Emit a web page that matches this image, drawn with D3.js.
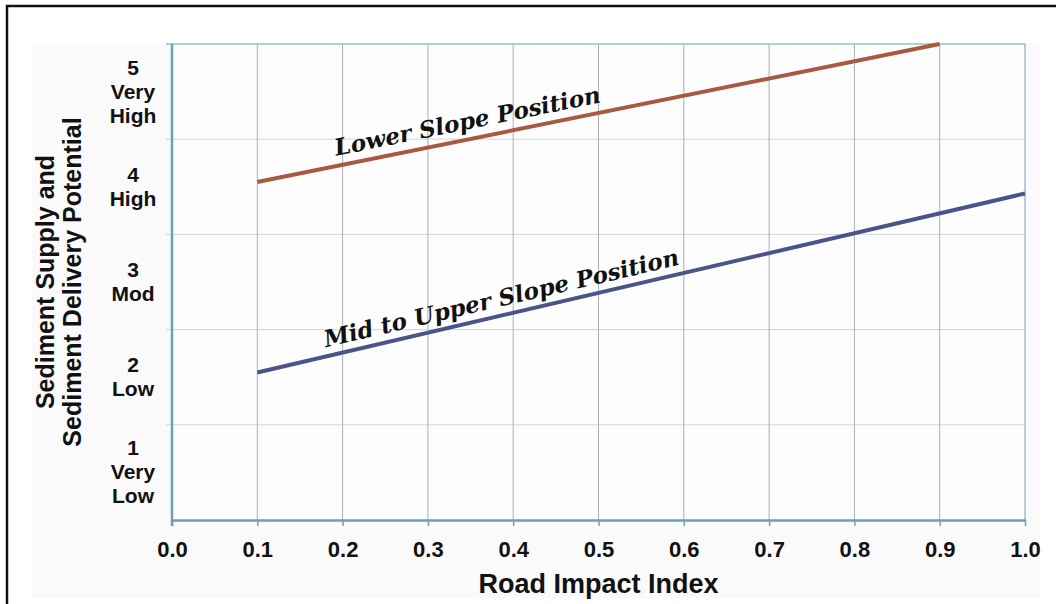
<!DOCTYPE html>
<html>
<head>
<meta charset="utf-8">
<script src="https://cdn.jsdelivr.net/npm/d3@7"></script>
<style>
  body { margin: 0; background: #fff; }
  svg { display: block; }
</style>
</head>
<body>
<div id="chart"></div>
<script>
// Values
const xTickValues = [0.0, 0.1, 0.2, 0.3, 0.4, 0.5, 0.6, 0.7, 0.8, 0.9, 1.0];
const levelBounds = [0, 1, 2, 3, 4, 5];
const levelLabels = [
  ["1", "Very", "Low"],
  ["2", "Low"],
  ["3", "Mod"],
  ["4", "High"],
  ["5", "Very", "High"]
];
const lowerSlope = [{x: 0.1, y: 3.55}, {x: 0.9, y: 5.0}];
const midUpperSlope = [{x: 0.1, y: 1.55}, {x: 1.0, y: 3.43}];
const series = [
  {name: "Lower Slope Position", values: lowerSlope, colour: "#a65a3e", labelAt: 0.195, gap: 10},
  {name: "Mid to Upper Slope Position", values: midUpperSlope, colour: "#4b5389", labelAt: 0.183, gap: 9}
];

const width = 1056, height = 604;
const plot = {left: 172, right: 1025, top: 44, bottom: 520};
const axisColour = "#6f9fb6";
const sans = "'Liberation Sans', Arial, sans-serif";

const svg = d3.select("#chart").append("svg")
  .attr("width", width)
  .attr("height", height);

// Frame and background panel
svg.append("rect")
  .attr("x", 7).attr("y", 6)
  .attr("width", width + 20).attr("height", height + 20)
  .attr("fill", "#fff").attr("stroke", "#111").attr("stroke-width", 2.5);
svg.append("rect")
  .attr("x", 32).attr("y", 43)
  .attr("width", 1008).attr("height", 555)
  .attr("fill", "#fafafa");

const x = d3.scaleLinear().domain([0, 1]).range([plot.left, plot.right]);
const y = d3.scaleLinear().domain([0, 5]).range([plot.bottom, plot.top]);

svg.append("rect")
  .attr("x", plot.left).attr("y", plot.top)
  .attr("width", plot.right - plot.left).attr("height", plot.bottom - plot.top)
  .attr("fill", "#fdfdfe");

// Horizontal grid lines (with stubs left of the axis)
svg.append("g")
  .selectAll("line")
  .data(levelBounds.slice(1))
  .join("line")
    .attr("x1", plot.left - 6)
    .attr("x2", plot.right)
    .attr("y1", d => y(d))
    .attr("y2", d => y(d))
    .attr("stroke", d => d == 5 ? axisColour : "#d2d6d9")
    .attr("stroke-width", 1);

// Vertical grid lines
svg.append("g")
  .selectAll("line")
  .data(xTickValues.slice(1))
  .join("line")
    .attr("x1", d => x(d))
    .attr("x2", d => x(d))
    .attr("y1", plot.top)
    .attr("y2", plot.bottom)
    .attr("stroke", d => d == 1 ? axisColour : "#aab0b4")
    .attr("stroke-width", 1);

// x axis
const xAxis = svg.append("g")
  .attr("transform", `translate(0,${plot.bottom})`)
  .call(d3.axisBottom(x).tickValues(xTickValues).tickFormat(d3.format(".1f")).tickSize(6).tickSizeOuter(0));
xAxis.select(".domain").attr("stroke", axisColour).attr("stroke-width", 2.5);
xAxis.selectAll(".tick line").attr("stroke", axisColour).attr("stroke-width", 1.5);
xAxis.selectAll(".tick text")
  .attr("dy", 0)
  .attr("y", 37)
  .attr("fill", "#111")
  .style("font-family", sans)
  .style("font-weight", "bold")
  .style("font-size", "22px");

// y axis line
svg.append("line")
  .attr("x1", plot.left).attr("x2", plot.left)
  .attr("y1", plot.top).attr("y2", plot.bottom + 6)
  .attr("stroke", axisColour).attr("stroke-width", 2.5);

// Level labels, centred in each band
const lineH = 24;
const levels = svg.append("g")
  .selectAll("text")
  .data(levelLabels)
  .join("text")
    .attr("text-anchor", "middle")
    .attr("fill", "#111")
    .style("font-family", sans)
    .style("font-weight", "bold")
    .style("font-size", "21px");
levels.each(function(lines, i) {
  const cy = y(i + 0.5);
  const first = cy - (lines.length - 1) * lineH / 2;
  d3.select(this).selectAll("tspan")
    .data(lines)
    .join("tspan")
      .attr("x", 133)
      .attr("y", (_, k) => first + k * lineH + 7)
      .text(d => d);
});

// Axis titles
svg.append("text")
  .attr("transform", `translate(58,${y(2.5)}) rotate(-90)`)
  .attr("text-anchor", "middle")
  .attr("fill", "#111")
  .style("font-family", sans)
  .style("font-weight", "bold")
  .style("font-size", "25px")
  .selectAll("tspan")
  .data(["Sediment Supply and", "Sediment Delivery Potential"])
  .join("tspan")
    .attr("x", 0)
    .attr("y", (_, i) => i * 27 - 4)
    .text(d => d);

svg.append("text")
  .attr("x", x(0.5))
  .attr("y", 593)
  .attr("text-anchor", "middle")
  .attr("fill", "#111")
  .style("font-family", sans)
  .style("font-weight", "bold")
  .style("font-size", "27px")
  .text("Road Impact Index");

// Series lines
const line = d3.line().x(d => x(d.x)).y(d => y(d.y));
svg.append("g")
  .selectAll("path")
  .data(series)
  .join("path")
    .attr("d", d => line(d.values))
    .attr("fill", "none")
    .attr("stroke", d => d.colour)
    .attr("stroke-width", 4);

// Labels along each line
svg.append("g")
  .selectAll("text")
  .data(series)
  .join("text")
    .attr("transform", d => {
      const [a, b] = d.values;
      const angle = Math.atan2(y(b.y) - y(a.y), x(b.x) - x(a.x)) * 180 / Math.PI;
      const t = (d.labelAt - a.x) / (b.x - a.x);
      const px = x(d.labelAt);
      const py = y(a.y + t * (b.y - a.y));
      return `translate(${px},${py}) rotate(${angle}) translate(0,${-d.gap})`;
    })
    .attr("fill", "#111")
    .style("font-family", "'DejaVu Serif', serif")
    .style("font-style", "italic")
    .style("font-weight", "bold")
    .style("font-size", "23px")
    .text(d => d.name);
</script>
</body>
</html>
